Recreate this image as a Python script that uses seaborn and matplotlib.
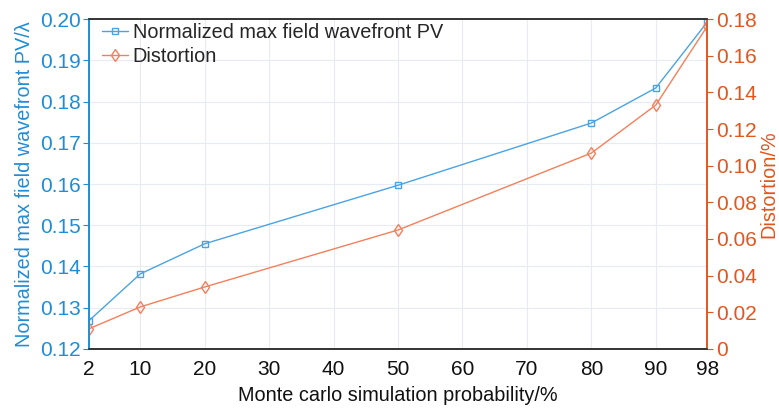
import matplotlib.pyplot as plt
import pandas as pd
import seaborn as sns

# data
prob = [2, 10, 20, 50, 80, 90, 98]
pv = [0.1268, 0.1382, 0.1455, 0.1597, 0.1748, 0.1833, 0.1993]
distortion = [0.0109, 0.0229, 0.0338, 0.0649, 0.1069, 0.1331, 0.1762]
xticks = [2, 10, 20, 30, 40, 50, 60, 70, 80, 90, 98]

blue_txt = '#1f8dd6'
blue_line = '#4ba3e3'
orange_txt = '#e2561e'
orange_line = '#f3805c'

sns.set_style('white')
plt.rcParams['font.family'] = ['Liberation Sans', 'DejaVu Sans']

df = pd.DataFrame({'prob': prob, 'pv': pv, 'dist': distortion})

fig = plt.figure(figsize=(7.79, 4.08), dpi=100)
ax = fig.add_axes([0.114, 0.145, 0.794, 0.808])
ax2 = ax.twinx()

sns.lineplot(data=df, x='prob', y='pv', ax=ax, color=blue_line, marker='s', markersize=5,
             markerfacecolor='none', markeredgecolor=blue_line, markeredgewidth=1, linewidth=1,
             label='Normalized max field wavefront PV', legend=False)
sns.lineplot(data=df, x='prob', y='dist', ax=ax2, color=orange_line, marker='d', markersize=6.5,
             markerfacecolor='none', markeredgecolor=orange_line, markeredgewidth=1, linewidth=1,
             label='Distortion', legend=False)

ax.set_xlim(2, 98)
ax.set_ylim(0.12, 0.20)
ax2.set_ylim(0, 0.18)
ax.set_xticks(xticks)
ax.set_yticks([0.12, 0.13, 0.14, 0.15, 0.16, 0.17, 0.18, 0.19, 0.20])
ax.set_yticklabels(['%.2f' % v for v in ax.get_yticks()])
ax2.set_yticks([0, 0.02, 0.04, 0.06, 0.08, 0.10, 0.12, 0.14, 0.16, 0.18])
ax2.set_yticklabels(['0'] + ['%.2f' % v for v in ax2.get_yticks()[1:]])

ax.grid(True, color='#e8ecf2', linewidth=0.8)
ax.set_axisbelow(True)

ax.set_xlabel('Monte carlo simulation probability/%', fontsize=14.3, color='#111111', labelpad=5)
ax.set_ylabel('Normalized max field wavefront PV/λ', fontsize=14.3, color=blue_txt, labelpad=4)
ax2.set_ylabel('Distortion/%', fontsize=14.3, color=orange_txt, labelpad=2)

ax.tick_params(axis='x', direction='in', length=4, colors='#333333', labelsize=15, labelcolor='#111111', pad=8)
ax.tick_params(axis='y', direction='out', length=4, colors=blue_txt, labelsize=15, pad=2)
ax2.tick_params(axis='y', direction='out', length=4, colors=orange_txt, labelsize=15, pad=2)

for a in (ax, ax2):
    a.spines['top'].set_color('#333333')
    a.spines['bottom'].set_color('#333333')
    a.spines['left'].set_color(blue_txt)
    a.spines['right'].set_color(orange_txt)
    for s in a.spines.values():
        s.set_linewidth(1.2)

h1, l1 = ax.get_legend_handles_labels()
h2, l2 = ax2.get_legend_handles_labels()
ax.legend(h1 + h2, l1 + l2, loc='upper left', bbox_to_anchor=(0.015, 1.0), frameon=False, fontsize=14.3,
          handlelength=1.3, handletextpad=0.25, borderaxespad=0.1, borderpad=0.1, labelspacing=0.25)

fig.savefig('out.png', dpi=100)
